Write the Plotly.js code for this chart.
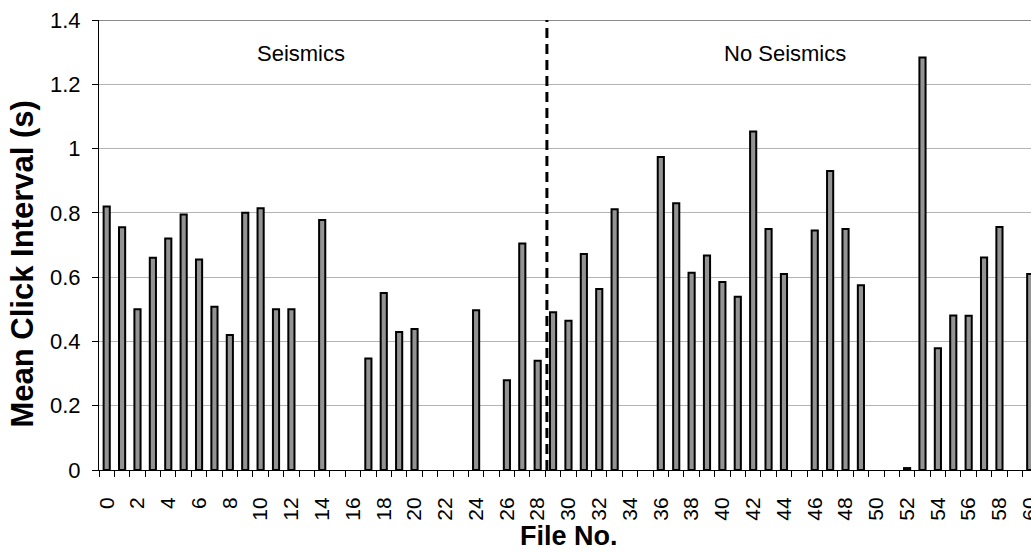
<!DOCTYPE html>
<html>
<head>
<meta charset="utf-8">
<script src="https://cdn.plot.ly/plotly-3.0.1.min.js"></script>
<style>
  html, body { margin: 0; padding: 0; overflow: hidden; background: #fff; }
  #chart { width: 1031px; height: 552px; }
</style>
</head>
<body>
<div id="chart"></div>
<script>
// File numbers (categories)
const fileNo = [0, 1, 2, 3, 4, 5, 6, 7, 8, 9, 10, 11, 12, 13, 14, 15, 16, 17, 18, 19, 20,
  21, 22, 23, 24, 25, 26, 27, 28, 29, 30, 31, 32, 33, 34, 35, 36, 37, 38, 39, 40,
  41, 42, 43, 44, 45, 46, 47, 48, 49, 50, 51, 52, 53, 54, 55, 56, 57, 58, 59, 60];

// Mean click interval (s); null = no value for that file
const meanClickInterval = [0.82, 0.755, 0.50, 0.66, 0.72, 0.795, 0.655, 0.508, 0.42, 0.80,
  0.814, 0.50, 0.50, null, 0.778, null, null, 0.347, 0.551, 0.429,
  0.439, null, null, null, 0.497, null, 0.279, 0.705, 0.340, 0.491,
  0.464, 0.672, 0.563, 0.811, null, null, 0.974, 0.830, 0.614, 0.667,
  0.585, 0.539, 1.053, 0.750, 0.610, null, 0.745, 0.930, 0.750, 0.575,
  null, null, 0.006, 1.283, 0.379, 0.481, 0.480, 0.661, 0.756, null,
  0.610];

// Group labels and divider
const groupLabels = ["Seismics", "No Seismics"];
const groupLabelX = [12.6, 44.1];
const groupLabelY = 1.297;
const dividerX = 28.6;

const xTitle = "File No.";
const yTitle = "Mean Click Interval (s)";

const FONT = "Liberation Sans, Arial, Helvetica, sans-serif";

const trace = {
  type: "bar",
  x: fileNo,
  y: meanClickInterval,
  width: 0.4,
  marker: { color: "#939393", line: { color: "#000000", width: 2 } },
  hoverinfo: "x+y",
  showlegend: false
};

const groupAnnotations = groupLabels.map((t, i) => ({
  text: t, x: groupLabelX[i], y: groupLabelY, xref: "x", yref: "y",
  showarrow: false, xanchor: "center", yanchor: "middle",
  font: { family: FONT, size: 22, color: "#000" }
}));

const titleAnnotations = [
  { text: "<b>" + yTitle + "</b>", xref: "paper", yref: "paper", x: -0.0826, y: 0.4567,
    xanchor: "center", yanchor: "middle", textangle: -90, showarrow: false,
    font: { family: FONT, size: 31, color: "#000" } },
  { text: "<b>" + xTitle + "</b>", xref: "paper", yref: "paper", x: 0.5048, y: -0.1467,
    xanchor: "center", yanchor: "middle", showarrow: false,
    font: { family: FONT, size: 27, color: "#000" } }
];

const layout = {
  width: 1031,
  height: 552,
  margin: { l: 99, r: 0, t: 20, b: 82, pad: 0 },
  paper_bgcolor: "#ffffff",
  plot_bgcolor: "#ffffff",
  font: { family: FONT, color: "#000000" },
  bargap: 0,
  xaxis: {
    range: [-0.5, 60.05],
    tickmode: "linear",
    tick0: 0,
    dtick: 2,
    ticks: "",
    tickangle: -90,
    ticklabelstandoff: 18,
    ticklabeloverflow: "allow",
    tickfont: { family: FONT, size: 21, color: "#000" },
    showgrid: false,
    zeroline: false,
    showline: true,
    linecolor: "#000",
    linewidth: 1,
    minor: { tick0: -0.5, dtick: 1, ticks: "outside", ticklen: 6, tickcolor: "#000", tickwidth: 1, showgrid: false },
    automargin: false
  },
  yaxis: {
    range: [0, 1.4],
    tickmode: "linear",
    tick0: 0,
    dtick: 0.2,
    ticks: "outside",
    ticklen: 6,
    tickcolor: "#000",
    ticklabelstandoff: 7,
    tickfont: { family: FONT, size: 22, color: "#000" },
    showgrid: true,
    gridcolor: "#b4b4b4",
    gridwidth: 1,
    zeroline: false,
    showline: true,
    linecolor: "#000",
    linewidth: 1,
    automargin: false
  },
  shapes: [
    { type: "line", xref: "paper", yref: "y", x0: 0, x1: 1, y0: 1.4, y1: 1.4,
      line: { color: "#8a8a8a", width: 2 } },
    { type: "line", xref: "x", yref: "paper", x0: dividerX, x1: dividerX, y0: 0, y1: 1,
      line: { color: "#000", width: 3, dash: "10px,6px" } }
  ],
  annotations: groupAnnotations.concat(titleAnnotations)
};

Plotly.newPlot("chart", [trace], layout, { staticPlot: true, displayModeBar: false });
</script>
</body>
</html>
